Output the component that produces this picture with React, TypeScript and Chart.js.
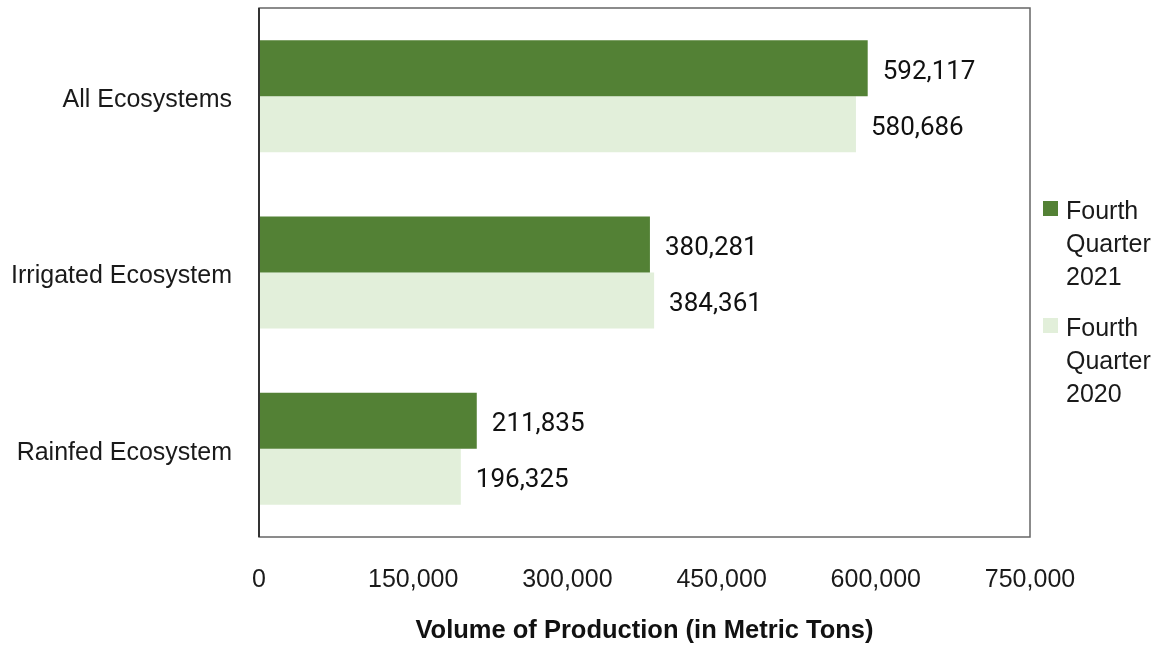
import React, { useEffect, useRef } from "react";
import { Chart, registerables } from "chart.js";

Chart.register(...registerables);

const categories = ["All Ecosystems", "Irrigated Ecosystem", "Rainfed Ecosystem"];
const series2021 = [592117, 380281, 211835];
const series2020 = [580686, 384361, 196325];
const seriesNames = [["Fourth", "Quarter", "2021"], ["Fourth", "Quarter", "2020"]];
const tickValues = [0, 150000, 300000, 450000, 600000, 750000];
const axisTitle = "Volume of Production (in Metric Tons)";

const DARK = "#538135";
const LIGHT = "#E2EFDA";
const SANS = "'Liberation Sans', Arial, sans-serif";
const LABELFONT = "Roboto, 'Liberation Sans', sans-serif";

const fmt = (v: number) => v.toLocaleString("en-US");

export default function App() {
  const ref = useRef<HTMLCanvasElement | null>(null);
  useEffect(() => {
    const canvas = ref.current!;
    const overlay = {
      id: "overlay",
      beforeDatasetsDraw(chart: any) {
        const { ctx, chartArea: a } = chart;
        ctx.save();
        ctx.strokeStyle = "#666666";
        ctx.lineWidth = 1.5;
        ctx.strokeRect(a.left, a.top, a.right - a.left, a.bottom - a.top);
        ctx.restore();
      },
      afterDraw(chart: any) {
        const { ctx, chartArea: a } = chart;
        ctx.save();
        ctx.strokeStyle = "#333333";
        ctx.lineWidth = 2;
        ctx.beginPath();
        ctx.moveTo(a.left, a.top);
        ctx.lineTo(a.left, a.bottom);
        ctx.stroke();
        // data labels
        ctx.fillStyle = "#111111";
        ctx.font = `26px ${LABELFONT}`;
        ctx.textBaseline = "middle";
        ctx.textAlign = "left";
        chart.data.datasets.forEach((ds: any, di: number) => {
          const meta = chart.getDatasetMeta(di);
          meta.data.forEach((bar: any, i: number) => {
            ctx.fillText(fmt(ds.data[i]), bar.x + 15, bar.y + 4);
          });
        });
        // legend
        const lx = 1043;
        const colors = [DARK, LIGHT];
        const startY = [210, 327];
        ctx.font = `25px ${SANS}`;
        seriesNames.forEach((lines, si) => {
          ctx.fillStyle = colors[si];
          ctx.fillRect(lx, startY[si] - 9, 15, 15);
          ctx.fillStyle = "#1a1a1a";
          lines.forEach((t, li) => {
            ctx.fillText(t, lx + 23, startY[si] + 2 + li * 33);
          });
        });
        ctx.restore();
      },
    };
    const chart = new Chart(canvas, {
      type: "bar",
      data: {
        labels: categories,
        datasets: [
          { label: seriesNames[0].join(" "), data: series2021, backgroundColor: DARK, barPercentage: 1, categoryPercentage: 0.635 },
          { label: seriesNames[1].join(" "), data: series2020, backgroundColor: LIGHT, barPercentage: 1, categoryPercentage: 0.635 },
        ],
      },
      options: {
        indexAxis: "y",
        responsive: false,
        animation: false,
        maintainAspectRatio: false,
        layout: { padding: { top: 8, right: 127, left: 0, bottom: 0 } },
        plugins: { legend: { display: false }, tooltip: { enabled: false } },
        scales: {
          x: {
            min: 0,
            max: 750000,
            afterBuildTicks: (s: any) => { s.ticks = tickValues.map((v) => ({ value: v })); },
            afterFit: (s: any) => { s.height = 109; },
            grid: { display: false, drawTicks: false },
            border: { display: false },
            ticks: {
              padding: 28,
              color: "#1a1a1a",
              font: { size: 25, family: SANS },
              maxRotation: 0,
              callback: (v: any) => fmt(Number(v)),
            },
            title: {
              display: true,
              text: axisTitle,
              color: "#111111",
              font: { size: 25.5, weight: "bold", family: SANS },
              padding: { top: 16, bottom: 0 },
            },
          },
          y: {
            afterFit: (s: any) => { s.width = 259; s.paddingTop = 0; s.paddingBottom = 0; },
            grid: { display: false, drawTicks: false },
            border: { display: false },
            ticks: {
              padding: 27,
              labelOffset: 4,
              color: "#1a1a1a",
              font: { size: 25, family: SANS },
            },
          },
        },
      },
      plugins: [overlay],
    });
    return () => chart.destroy();
  }, []);
  return (
    <div style={{ position: "fixed", left: 0, top: 0, width: 1157, height: 646, background: "#fff" }}>
      <canvas ref={ref} width={1157} height={646} style={{ width: 1157, height: 646 }} />
    </div>
  );
}
